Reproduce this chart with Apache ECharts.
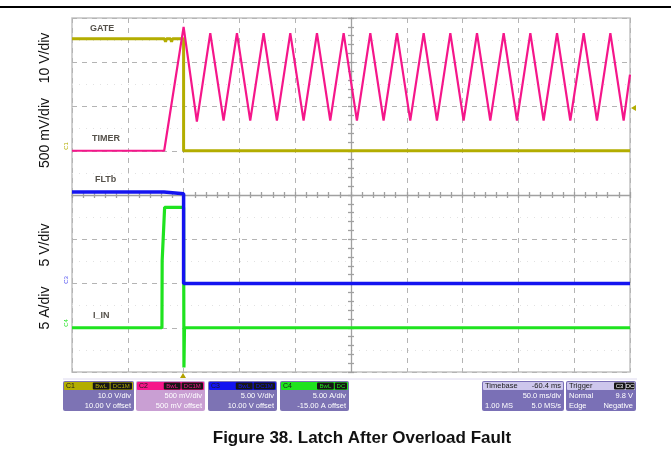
<!DOCTYPE html>
<html>
<head>
<meta charset="utf-8">
<script src="https://cdn.jsdelivr.net/npm/echarts/dist/echarts.min.js"></script>
<style>
  html, body { margin: 0; padding: 0; background: #ffffff; }
  #chart { width: 671px; height: 475px; }
</style>
</head>
<body>
<div id="chart"></div>
<script>
// ---- Captured waveforms (time in ms, trigger at t = 0, 50 ms/div) ----

// CH1 GATE, volts (10 V/div)
const gateT = [-100, -17.0, -16.2, -15.4, -11.6, -10.8, -10.0, 0, 0, 400];
const gateV = [25.3, 25.3, 24.6, 25.3, 25.3, 24.6, 25.3, 25.3, 0, 0];

// CH2 TIMER, volts (500 mV/div)
const timerT = [-100, -17.4, 0,
  11.9, 23.9, 35.8, 47.8, 59.7, 71.7, 83.6, 95.6, 107.5, 119.5, 131.4, 143.4,
  155.3, 167.3, 179.2, 191.2, 203.1, 215.1, 227.0, 239.0, 250.9, 262.9, 274.8,
  286.8, 298.7, 310.7, 322.6, 334.6, 346.5, 358.5, 370.4, 382.4, 394.3, 400];
const timerV = [0, 0, 1.40,
  0.33, 1.33, 0.34, 1.33, 0.34, 1.33, 0.34, 1.33, 0.34, 1.33, 0.34, 1.33,
  0.34, 1.33, 0.34, 1.33, 0.34, 1.33, 0.34, 1.33, 0.34, 1.33, 0.34,
  1.33, 0.34, 1.33, 0.34, 1.33, 0.34, 1.33, 0.34, 1.33, 0.34, 0.86];

// CH3 FLTb, volts (5 V/div)
const fltT = [-100, -17.6, -17.6, 0, 0, 400];
const fltV = [10.35, 10.35, 10.15, 10.15, 0, 0];

// CH4 I_IN, amps (5 A/div)
const iinT = [-100, -19.4, -19.2, -17.0, 0, 0.3, 0.8, 400];
const iinV = [0, 0, 7.6, 13.6, 13.6, -4.5, 0, 0];

// Trace names and colours
const traceNames = ['GATE', 'TIMER', 'FLTb', 'I_IN'];
const traceColors = ['#b3ad00', '#f5168a', '#1414f0', '#1fe31f'];

// Vertical scale labels
const scaleLabels = ['10 V/div', '500 mV/div', '5 V/div', '5 A/div'];

// Scope readout panels
const chanInfo = [
  { name: 'C1', tags: ['BwL', 'DC1M'], line1: '10.0 V/div', line2: '10.00 V offset' },
  { name: 'C2', tags: ['BwL', 'DC1M'], line1: '500 mV/div', line2: '500 mV offset' },
  { name: 'C3', tags: ['BwL', 'DC1M'], line1: '5.00 V/div', line2: '10.00 V offset' },
  { name: 'C4', tags: ['BwL', 'DC'], line1: '5.00 A/div', line2: '-15.00 A offset' }
];
const timebaseInfo = ['Timebase', '-60.4 ms', '50.0 ms/div', '1.00 MS', '5.0 MS/s'];
const triggerInfo = ['Trigger', 'C3', 'DC', 'Normal', '9.8 V', 'Edge', 'Negative'];

const caption = 'Figure 38. Latch After Overload Fault';

function pairs(t, v) { return t.map((x, i) => [x, v[i]]); }

const chart = echarts.init(document.getElementById('chart'), null, { renderer: 'canvas' });

const hidden = { axisLine: { show: false, onZero: false }, axisTick: { show: false },
                 axisLabel: { show: false }, splitLine: { show: false } };

const crossLine = { color: '#a0a0a0', width: 1.3 };

const option = {
  animation: false,
  backgroundColor: '#ffffff',
  grid: { left: 72, top: 18, width: 558, height: 354, show: true,
          borderColor: '#c2c2c2', borderWidth: 1.5, backgroundColor: 'transparent' },
  xAxis: [
    Object.assign({ type: 'value', min: -100, max: 400, interval: 50 }, hidden,
      { splitLine: { show: true, lineStyle: { color: '#b4b4b4', width: 1, type: [5, 5] } } }),
    { type: 'value', min: -5, max: 5, interval: 1,
      axisLine: { show: true, onZero: true, onZeroAxisIndex: 4, lineStyle: crossLine },
      axisTick: { show: true, inside: false, length: 3, lineStyle: crossLine },
      minorTick: { show: true, splitNumber: 5, length: 3, lineStyle: crossLine },
      axisLabel: { show: false }, splitLine: { show: false } },
    { type: 'value', min: -5, max: 5, interval: 1,
      axisLine: { show: false, onZero: true, onZeroAxisIndex: 4 },
      axisTick: { show: true, inside: true, length: 3, lineStyle: crossLine },
      minorTick: { show: true, splitNumber: 5, length: 3, lineStyle: crossLine },
      axisLabel: { show: false }, splitLine: { show: false } }
  ],
  yAxis: [
    Object.assign({ type: 'value', min: -50, max: 30, interval: 10 }, hidden,
      { splitLine: { show: true, lineStyle: { color: '#b4b4b4', width: 1, type: [5, 5] } },
        minorTick: { show: false, splitNumber: 2 },
        minorSplitLine: { show: true, lineStyle: { color: '#e2e2e2', width: 1, type: [1, 6] } } }),
    Object.assign({ type: 'value', min: -2.5, max: 1.5 }, hidden),
    Object.assign({ type: 'value', min: -10, max: 30 }, hidden),
    Object.assign({ type: 'value', min: -5, max: 35 }, hidden),
    { type: 'value', min: -4, max: 4, interval: 1,
      axisLine: { show: true, onZero: true, onZeroAxisIndex: 1, lineStyle: crossLine },
      axisTick: { show: true, inside: false, length: 3, lineStyle: crossLine },
      minorTick: { show: true, splitNumber: 5, length: 3, lineStyle: crossLine },
      axisLabel: { show: false }, splitLine: { show: false } },
    { type: 'value', min: -4, max: 4, interval: 1,
      axisLine: { show: false, onZero: true, onZeroAxisIndex: 1 },
      axisTick: { show: true, inside: true, length: 3, lineStyle: crossLine },
      minorTick: { show: true, splitNumber: 5, length: 3, lineStyle: crossLine },
      axisLabel: { show: false }, splitLine: { show: false } }
  ],
  series: [
    { name: traceNames[0], type: 'line', yAxisIndex: 0, data: pairs(gateT, gateV),
      showSymbol: false, lineStyle: { color: traceColors[0], width: 3 }, z: 3 },
    { name: traceNames[1], type: 'line', yAxisIndex: 1, data: pairs(timerT, timerV),
      showSymbol: false, lineStyle: { color: traceColors[1], width: 2.2 }, z: 4 },
    { name: traceNames[3], type: 'line', yAxisIndex: 3, data: pairs(iinT, iinV),
      showSymbol: false, lineStyle: { color: traceColors[3], width: 3.2 }, z: 5 },
    { name: traceNames[2], type: 'line', yAxisIndex: 2, data: pairs(fltT, fltV),
      showSymbol: false, lineStyle: { color: traceColors[2], width: 3.5 }, z: 6 }
  ]
};
chart.setOption(option);

// ---- Annotations: trace names, scale labels, readout panels, caption ----
const g = [];
const FONT = '"Liberation Sans", Arial, sans-serif';

// rule above the figure
g.push({ type: 'line', shape: { x1: 0, y1: 7, x2: 671, y2: 7 }, style: { stroke: '#000', lineWidth: 2 } });

// trace names inside the screen
const nameSpots = [[90, 29], [92, 139], [95, 180], [93, 316]];
traceNames.forEach((n, i) => {
  g.push({ type: 'text', x: nameSpots[i][0], y: nameSpots[i][1], z: 20,
    style: { text: n, font: 'bold 9px ' + FONT, fill: '#55514a', align: 'left', verticalAlign: 'middle' } });
});

// rotated per-division labels at the left
const scaleSpots = [[45, 58], [45, 133], [45, 245], [45, 308]];
scaleLabels.forEach((s, i) => {
  g.push({ type: 'text', x: scaleSpots[i][0], y: scaleSpots[i][1], rotation: Math.PI / 2,
    style: { text: s, font: '14px ' + FONT, fill: '#111', align: 'center', verticalAlign: 'middle' } });
});

// channel ground markers at the left edge
const markerSpots = [[66, 146, traceColors[0], 'C1'], [66, 280, '#4b4bf0', 'C3'], [66, 323, traceColors[3], 'C4']];
markerSpots.forEach(m => {
  g.push({ type: 'text', x: m[0], y: m[1], rotation: Math.PI / 2,
    style: { text: m[3], font: '6px ' + FONT, fill: m[2], align: 'center', verticalAlign: 'middle' } });
});

// trigger position (bottom) and level (right) markers
g.push({ type: 'polygon', shape: { points: [[180, 378], [186, 378], [183, 373]] }, style: { fill: '#b3a200' } });
g.push({ type: 'polygon', shape: { points: [[631, 108], [636, 105], [636, 111]] }, style: { fill: '#b3ad00' } });

// thin frame line above the readouts
g.push({ type: 'line', shape: { x1: 63, y1: 379, x2: 637, y2: 379 }, style: { stroke: '#dcd8ee', lineWidth: 1 } });

// channel readout boxes
const boxX = [63, 136, 208, 280];
const boxW = [71, 69, 69, 69];
const bodyFill = ['#7d73b4', '#c99fd3', '#7d73b4', '#7d73b4'];
chanInfo.forEach((c, i) => {
  const x = boxX[i], w = boxW[i], col = traceColors[i];
  g.push({ type: 'rect', shape: { x: x, y: 381, width: w, height: 30, r: 2 }, style: { fill: bodyFill[i] } });
  g.push({ type: 'rect', shape: { x: x + 1, y: 382, width: w - 2, height: 8, r: 1 }, style: { fill: col } });
  g.push({ type: 'text', x: x + 3, y: 386, style: { text: c.name, font: '7px ' + FONT, fill: '#1b1b1b', verticalAlign: 'middle' } });
  let tx = x + w - 2;
  for (let k = c.tags.length - 1; k >= 0; k--) {
    const tw = c.tags[k].length * 4.6 + 3;
    tx -= tw;
    g.push({ type: 'rect', shape: { x: tx, y: 382.5, width: tw, height: 7, r: 1 }, style: { fill: '#161616' } });
    g.push({ type: 'text', x: tx + tw / 2, y: 386, style: { text: c.tags[k], font: '6px ' + FONT, fill: col, align: 'center', verticalAlign: 'middle' } });
    tx -= 1;
  }
  g.push({ type: 'text', x: x + w - 3, y: 396, style: { text: c.line1, font: '7.5px ' + FONT, fill: '#ffffff', align: 'right', verticalAlign: 'middle' } });
  g.push({ type: 'text', x: x + w - 3, y: 405.5, style: { text: c.line2, font: '7.5px ' + FONT, fill: '#ffffff', align: 'right', verticalAlign: 'middle' } });
});

// timebase box
(function () {
  const x = 482, w = 82;
  g.push({ type: 'rect', shape: { x: x, y: 381, width: w, height: 30, r: 2 }, style: { fill: '#7a70b6' } });
  g.push({ type: 'rect', shape: { x: x + 1, y: 382, width: w - 2, height: 8, r: 1 }, style: { fill: '#cdc7ec' } });
  g.push({ type: 'text', x: x + 3, y: 386, style: { text: timebaseInfo[0], font: '7.5px ' + FONT, fill: '#1b1b1b', verticalAlign: 'middle' } });
  g.push({ type: 'text', x: x + w - 3, y: 386, style: { text: timebaseInfo[1], font: '7.5px ' + FONT, fill: '#1b1b1b', align: 'right', verticalAlign: 'middle' } });
  g.push({ type: 'text', x: x + w - 3, y: 396, style: { text: timebaseInfo[2], font: '7.5px ' + FONT, fill: '#fff', align: 'right', verticalAlign: 'middle' } });
  g.push({ type: 'text', x: x + 3, y: 405.5, style: { text: timebaseInfo[3], font: '7.5px ' + FONT, fill: '#fff', verticalAlign: 'middle' } });
  g.push({ type: 'text', x: x + w - 3, y: 405.5, style: { text: timebaseInfo[4], font: '7.5px ' + FONT, fill: '#fff', align: 'right', verticalAlign: 'middle' } });
})();

// trigger box
(function () {
  const x = 566, w = 70;
  g.push({ type: 'rect', shape: { x: x, y: 381, width: w, height: 30, r: 2 }, style: { fill: '#7a70b6' } });
  g.push({ type: 'rect', shape: { x: x + 1, y: 382, width: w - 2, height: 8, r: 1 }, style: { fill: '#cdc7ec' } });
  g.push({ type: 'text', x: x + 3, y: 386, style: { text: triggerInfo[0], font: '7.5px ' + FONT, fill: '#1b1b1b', verticalAlign: 'middle' } });
  g.push({ type: 'rect', shape: { x: x + w - 22, y: 382.5, width: 11, height: 7, r: 1 }, style: { fill: '#161616' } });
  g.push({ type: 'text', x: x + w - 16.5, y: 386, style: { text: triggerInfo[1], font: '6px ' + FONT, fill: '#ffffff', align: 'center', verticalAlign: 'middle' } });
  g.push({ type: 'rect', shape: { x: x + w - 10.5, y: 382.5, width: 9, height: 7, r: 1 }, style: { fill: '#161616' } });
  g.push({ type: 'text', x: x + w - 6, y: 386, style: { text: triggerInfo[2], font: '6px ' + FONT, fill: '#ffffff', align: 'center', verticalAlign: 'middle' } });
  g.push({ type: 'text', x: x + 3, y: 396, style: { text: triggerInfo[3], font: '7.5px ' + FONT, fill: '#fff', verticalAlign: 'middle' } });
  g.push({ type: 'text', x: x + w - 3, y: 396, style: { text: triggerInfo[4], font: '7.5px ' + FONT, fill: '#fff', align: 'right', verticalAlign: 'middle' } });
  g.push({ type: 'text', x: x + 3, y: 405.5, style: { text: triggerInfo[5], font: '7.5px ' + FONT, fill: '#fff', verticalAlign: 'middle' } });
  g.push({ type: 'text', x: x + w - 3, y: 405.5, style: { text: triggerInfo[6], font: '7.5px ' + FONT, fill: '#fff', align: 'right', verticalAlign: 'middle' } });
})();

// figure caption
g.push({ type: 'text', x: 362, y: 438,
  style: { text: caption, font: 'bold 17px ' + FONT, fill: '#111', align: 'center', verticalAlign: 'middle' } });

chart.setOption({ graphic: { elements: g } });
</script>
</body>
</html>
